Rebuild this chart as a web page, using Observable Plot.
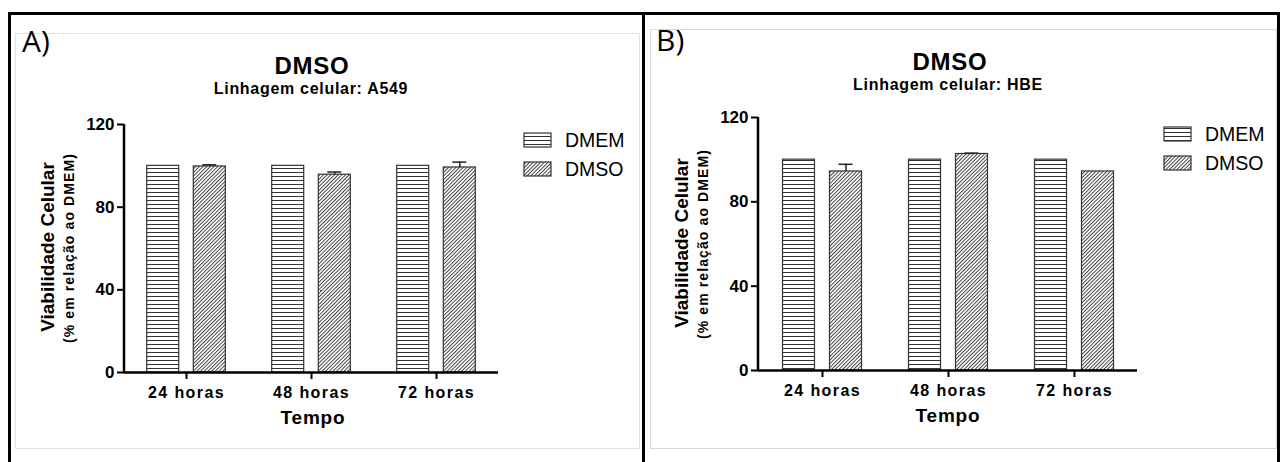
<!DOCTYPE html>
<html>
<head>
<meta charset="utf-8">
<script src="https://cdn.jsdelivr.net/npm/d3@7"></script>
<script src="https://cdn.jsdelivr.net/npm/@observablehq/plot@0.6"></script>
<style>
  html, body { margin: 0; padding: 0; background: #fff; }
  #wrap { position: relative; width: 1280px; height: 462px; overflow: hidden; background: #fff; }
  .pnl { position: absolute; top: 0; width: 640px; height: 462px; }
  #overlay { position: absolute; left: 0; top: 0; pointer-events: none; }
  .pnl [aria-label="x-axis tick label"], .pnl [aria-label="y-axis tick label"] { font-weight: bold; }
  .pnl [aria-label="x-axis tick label"] text { letter-spacing: 1.4px; }
  text { font-family: "Liberation Sans", Arial, sans-serif; }
</style>
</head>
<body>
<svg width="0" height="0" style="position:absolute">
  <defs>
    <pattern id="hatchH" patternUnits="userSpaceOnUse" width="8" height="4">
      <rect width="8" height="4" fill="#fff"/>
      <line x1="0" y1="0.5" x2="8" y2="0.5" stroke="#333" stroke-width="1"/>
    </pattern>
    <pattern id="hatchD" patternUnits="userSpaceOnUse" width="2.6" height="4" patternTransform="rotate(45)">
      <rect width="2.6" height="4" fill="#fff"/>
      <line x1="0.5" y1="0" x2="0.5" y2="4" stroke="#333" stroke-width="0.9"/>
    </pattern>
  </defs>
</svg>
<div id="wrap">
  <div id="panelA" class="pnl" style="left:0px"></div>
  <div id="panelB" class="pnl" style="left:640px"></div>
  <svg id="overlay" width="1280" height="462"></svg>
</div>
<script>
// ---- data ----
const times = ["24 horas", "48 horas", "72 horas"];
const seriesNames = ["DMEM", "DMSO"];
const yTicks = [0, 40, 80, 120];

const a549DMEM = [100, 100, 100];
const a549DMSO = [99.7, 95.7, 99.2];
const a549Err  = [0.8, 1.3, 2.6];

const hbeDMEM = [100, 100, 100];
const hbeDMSO = [94.4, 102.7, 94.4];
const hbeErr  = [3.4, 0.4, 0];

const panelLabels = ["A)", "B)"];
const titles = ["DMSO", "DMSO"];
const subtitles = ["Linhagem celular: A549", "Linhagem celular: HBE"];
const yLabel = "Viabilidade Celular";
const yLabel2 = "(% em relação ao DMEM)";
const xLabel = "Tempo";

function yAxisLine(index, scales, values, dims) {
  const g = document.createElementNS("http://www.w3.org/2000/svg", "line");
  g.setAttribute("x1", dims.marginLeft);
  g.setAttribute("x2", dims.marginLeft);
  g.setAttribute("y1", scales.y(120));
  g.setAttribute("y2", scales.y(0) + 1.2);
  g.setAttribute("stroke", "#000");
  g.setAttribute("stroke-width", 2.5);
  return g;
}

function panel(dmem, dmso, err, m) {
  const dmemRows = times.map((t, i) => ({time: t, series: seriesNames[0], value: dmem[i]}));
  const dmsoRows = times.map((t, i) => ({time: t, series: seriesNames[1], value: dmso[i], err: err[i]}));
  const errRows = dmsoRows.filter(d => d.err > 0);
  return Plot.plot({
    width: 640, height: 462,
    marginLeft: m.left, marginRight: m.right, marginTop: m.top, marginBottom: m.bottom,
    style: {background: "transparent", fontFamily: "'Liberation Sans', Arial, sans-serif", color: "#000", overflow: "visible"},
    x: {type: "band", domain: times, paddingInner: m.pi, paddingOuter: m.po, axis: null},
    y: {domain: [0, 120], axis: null},
    marks: [
      Plot.barY(dmemRows, {x: "time", y: "value", dx: -m.off, fill: "url(#hatchH)", stroke: "#333", strokeWidth: 1.2}),
      Plot.barY(dmsoRows, {x: "time", y: "value", dx: m.off, fill: "url(#hatchD)", stroke: "#333", strokeWidth: 1.2}),
      Plot.ruleX(errRows, {x: "time", y1: "value", y2: d => d.value + d.err, dx: m.off, stroke: "#222", strokeWidth: 1.5}),
      Plot.tickY(errRows, {x: "time", y: d => d.value + d.err, dx: m.off, insetLeft: 9, insetRight: 9, stroke: "#222", strokeWidth: 1.5}),
      Plot.ruleY([0], {stroke: "#000", strokeWidth: 2.5}),
      yAxisLine,
      Plot.axisX({tickSize: 7, tickPadding: 7, fontSize: 16, fontWeight: "bold", stroke: "#000", strokeWidth: 2, label: null}),
      Plot.axisY({ticks: yTicks, tickSize: 7, tickPadding: 3, fontSize: 17, fontWeight: "bold", stroke: "#000", strokeWidth: 2, label: null, tickFormat: d => String(d)})
    ]
  });
}

document.getElementById("panelA").append(panel(a549DMEM, a549DMSO, a549Err,
  {left: 124, right: 142, top: 124, bottom: 90, pi: 0.744, po: 0.365, off: 23.3}));
document.getElementById("panelB").append(panel(hbeDMEM, hbeDMSO, hbeErr,
  {left: 118, right: 143, top: 117, bottom: 92, pi: 0.747, po: 0.375, off: 23.5}));

// ---- decorations / text overlay ----
const ov = d3.select("#overlay");
ov.append("rect").attr("x", 15.5).attr("y", 33.5).attr("width", 624).attr("height", 415).attr("fill", "none").attr("stroke", "#e0e0e0");
ov.append("rect").attr("x", 650.5).attr("y", 29.5).attr("width", 626).attr("height", 419).attr("fill", "none").attr("stroke", "#d8d8d8");
ov.append("line").attr("x1", 8).attr("x2", 1280).attr("y1", 13.5).attr("y2", 13.5).attr("stroke", "#000").attr("stroke-width", 3);
ov.append("line").attr("x1", 9.5).attr("x2", 9.5).attr("y1", 12).attr("y2", 462).attr("stroke", "#000").attr("stroke-width", 3);
ov.append("line").attr("x1", 643.5).attr("x2", 643.5).attr("y1", 12).attr("y2", 462).attr("stroke", "#000").attr("stroke-width", 3);
ov.append("line").attr("x1", 1278.5).attr("x2", 1278.5).attr("y1", 12).attr("y2", 462).attr("stroke", "#000").attr("stroke-width", 3);

const layout = [
  {lab: [22, 52], title: [312, 74], sub: [311, 94], yl: [54, 247], yl2: [74, 248], xl: [313, 424], leg: [524, 133, 29]},
  {lab: [656, 51], title: [950, 70], sub: [948, 90], yl: [688, 243], yl2: [708, 244], xl: [948, 422], leg: [1164, 127, 29]}
];
layout.forEach((L, i) => {
  ov.append("text").attr("x", L.lab[0]).attr("y", L.lab[1]).text(panelLabels[i])
    .style("font-family", "'Open Sans', 'Liberation Sans', sans-serif").style("font-size", "30px");
  ov.append("text").attr("x", L.title[0]).attr("y", L.title[1]).attr("text-anchor", "middle").text(titles[i])
    .style("font-size", "24px").style("font-weight", "bold").style("letter-spacing", "0.8px");
  ov.append("text").attr("x", L.sub[0]).attr("y", L.sub[1]).attr("text-anchor", "middle").text(subtitles[i])
    .style("font-size", "16px").style("font-weight", "bold").style("letter-spacing", "0.7px");
  ov.append("text").attr("transform", `translate(${L.yl[0]},${L.yl[1]}) rotate(-90)`).attr("text-anchor", "middle").text(yLabel)
    .style("font-size", "19px").style("font-weight", "bold");
  ov.append("text").attr("transform", `translate(${L.yl2[0]},${L.yl2[1]}) rotate(-90)`).attr("text-anchor", "middle").text(yLabel2)
    .style("font-size", "14px").style("font-weight", "bold").style("letter-spacing", "1.1px");
  ov.append("text").attr("x", L.xl[0]).attr("y", L.xl[1]).attr("text-anchor", "middle").text(xLabel)
    .style("font-size", "19px").style("font-weight", "bold").style("letter-spacing", "0.8px");
  seriesNames.forEach((s, j) => {
    const y0 = L.leg[1] + j * L.leg[2];
    ov.append("rect").attr("x", L.leg[0]).attr("y", y0).attr("width", 27).attr("height", 14)
      .attr("fill", j === 0 ? "url(#hatchH)" : "url(#hatchD)").attr("stroke", "#333").attr("stroke-width", 1.2);
    ov.append("text").attr("x", L.leg[0] + 41).attr("y", y0 + 14).text(s).style("font-size", "19.5px");
  });
});
</script>
</body>
</html>
